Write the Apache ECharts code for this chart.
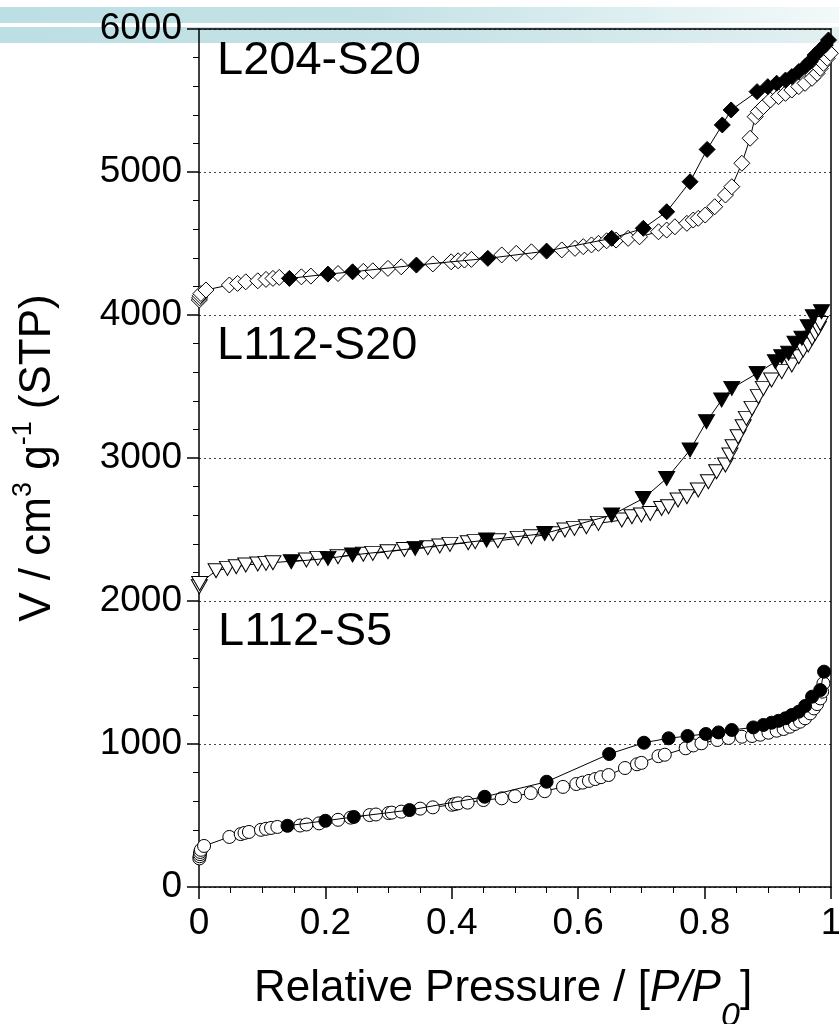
<!DOCTYPE html>
<html>
<head>
<meta charset="utf-8">
<script src="https://cdn.jsdelivr.net/npm/echarts@6/dist/echarts.min.js"></script>
<style>
html,body{margin:0;padding:0;background:#fff;}
#chart{width:839px;height:1024px;}
</style>
</head>
<body>
<div id="chart"></div>
<script>
// ---- data (plotted values, V in cm3/g STP vs P/P0) ----
const xTicks = [0, 0.2, 0.4, 0.6, 0.8, 1];
const yTicks = [0, 1000, 2000, 3000, 4000, 5000, 6000];
const sampleNames = ['L204-S20', 'L112-S20', 'L112-S5'];

// L112-S5 : open circles (adsorption), filled circles (desorption)
const s5Ads = [[0.0005,200],[0.001,215],[0.0015,230],[0.002,245],[0.003,260],[0.008,287],[0.048,350],[0.066,370],[0.072,378],[0.079,385],[0.098,400],[0.106,407],[0.114,413],[0.124,420],[0.16,430],[0.17,437],[0.19,445],[0.22,470],[0.24,485],[0.27,503],[0.28,507],[0.3,517],[0.305,520],[0.32,527],[0.35,548],[0.37,557],[0.40,575],[0.405,580],[0.41,585],[0.425,590],[0.45,608],[0.479,620],[0.5,635],[0.525,657],[0.547,670],[0.576,700],[0.597,720],[0.607,730],[0.617,742],[0.627,755],[0.636,768],[0.648,783],[0.674,832],[0.693,858],[0.70,868],[0.727,915],[0.737,925],[0.77,970],[0.782,990],[0.795,1005],[0.82,1028],[0.838,1042],[0.859,1051],[0.875,1056],[0.888,1065],[0.901,1079],[0.914,1093],[0.925,1105],[0.935,1121],[0.943,1140],[0.951,1156],[0.959,1180],[0.967,1214],[0.973,1249],[0.978,1279],[0.983,1319],[0.986,1366],[0.988,1424]];
const s5Des = [[0.989,1506],[0.983,1377],[0.97,1331],[0.959,1266],[0.949,1226],[0.938,1203],[0.928,1180],[0.917,1162],[0.906,1149],[0.893,1133],[0.877,1116],[0.843,1098],[0.822,1081],[0.802,1070],[0.773,1056],[0.743,1040],[0.704,1009],[0.649,930],[0.55,736],[0.452,631],[0.333,538],[0.245,490],[0.2,463],[0.14,428]];

// L112-S20 : open / filled down-triangles
const s20Ads = [[0.0005,2100],[0.001,2123],[0.027,2212],[0.045,2228],[0.059,2240],[0.074,2252],[0.093,2259],[0.106,2263],[0.117,2268],[0.17,2287],[0.188,2298],[0.22,2310],[0.26,2327],[0.275,2333],[0.299,2344],[0.325,2360],[0.362,2373],[0.381,2385],[0.397,2396],[0.426,2407],[0.437,2415],[0.473,2421],[0.505,2438],[0.526,2449],[0.56,2470],[0.579,2497],[0.594,2508],[0.613,2519],[0.632,2543],[0.669,2566],[0.685,2589],[0.7,2601],[0.714,2612],[0.732,2647],[0.743,2659],[0.758,2706],[0.772,2729],[0.79,2776],[0.806,2834],[0.819,2904],[0.833,2951],[0.84,3021],[0.845,3079],[0.853,3149],[0.861,3219],[0.866,3277],[0.875,3347],[0.885,3429],[0.893,3487],[0.906,3545],[0.922,3604],[0.938,3650],[0.949,3708],[0.956,3755],[0.964,3790],[0.97,3837],[0.975,3871],[0.98,3906],[0.983,3941]];
const s20Des = [[0.985,4023],[0.972,3988],[0.964,3918],[0.954,3837],[0.943,3802],[0.933,3732],[0.922,3708],[0.912,3673],[0.883,3592],[0.843,3487],[0.827,3406],[0.803,3254],[0.777,3056],[0.74,2857],[0.703,2717],[0.653,2601],[0.547,2472],[0.455,2426],[0.342,2368],[0.243,2322],[0.204,2298],[0.146,2275]];

// L204-S20 : open / filled diamonds
const l204Ads = [[0.0005,4105],[0.001,4120],[0.002,4135],[0.003,4150],[0.011,4175],[0.048,4210],[0.061,4221],[0.074,4232],[0.093,4239],[0.106,4249],[0.117,4256],[0.127,4263],[0.162,4267],[0.177,4272],[0.22,4290],[0.26,4305],[0.275,4309],[0.299,4326],[0.32,4337],[0.37,4357],[0.399,4372],[0.41,4379],[0.42,4384],[0.431,4389],[0.479,4420],[0.502,4431],[0.526,4442],[0.574,4455],[0.595,4466],[0.608,4478],[0.621,4490],[0.632,4501],[0.645,4519],[0.66,4524],[0.679,4536],[0.697,4547],[0.727,4582],[0.74,4594],[0.753,4617],[0.772,4641],[0.782,4664],[0.79,4676],[0.801,4699],[0.816,4757],[0.833,4839],[0.843,4897],[0.859,5061],[0.872,5236],[0.88,5387],[0.885,5422],[0.893,5457],[0.904,5503],[0.917,5527],[0.928,5550],[0.938,5573],[0.949,5597],[0.959,5620],[0.97,5655],[0.978,5690],[0.983,5725],[0.988,5760],[0.994,5795],[0.999,5830]];
const l204Des = [[0.996,5923],[0.991,5888],[0.983,5853],[0.975,5818],[0.967,5772],[0.959,5737],[0.949,5702],[0.938,5667],[0.928,5643],[0.914,5621],[0.9,5597],[0.883,5562],[0.842,5434],[0.828,5329],[0.804,5158],[0.777,4932],[0.74,4722],[0.703,4606],[0.653,4536],[0.55,4447],[0.457,4396],[0.344,4349],[0.243,4302],[0.204,4286],[0.143,4256]];

const FONT = "'Liberation Sans', Arial, Helvetica, sans-serif";

function mk(name, data, symbol, size, filled, rot) {
  return {
    name: name, type: 'line', data: data, symbol: symbol, symbolSize: size,
    symbolRotate: rot || 0, showAllSymbol: true, animation: false,
    lineStyle: {color: '#000', width: 1},
    itemStyle: {color: filled ? '#000' : '#fff', borderColor: '#000', borderWidth: 1},
    emphasis: {disabled: true}, z: filled ? 201 : 200
  };
}

function band(y, stops) {
  return {
    type: 'rect', z: 100, silent: true,
    shape: {x: 0, y: y, width: 839, height: 16},
    style: {fill: new echarts.graphic.LinearGradient(0, 0, 839, 0, stops, true)}
  };
}

const chart = echarts.init(document.getElementById('chart'), null, {renderer: 'canvas'});
const option = {
  backgroundColor: '#fff',
  animation: false,
  grid: {left: 199, right: 8, top: 29, bottom: 137, containLabel: false, outerBoundsMode: 'none'},
  graphic: {
    elements: [
      band(7, [{offset: 0, color: '#BCDFE3'}, {offset: 0.45, color: '#C4E2E6'}, {offset: 1, color: '#F3F9F9'}]),
      band(27, [{offset: 0, color: '#BCDFE3'}, {offset: 0.5, color: '#C5E2E6'}, {offset: 1, color: '#E3F0F2'}]),
      {type: 'text', z: 300, left: 217, top: 62.5 - 24.5,
       style: {text: sampleNames[0], font: '47px ' + FONT, fill: '#000'}},
      {type: 'text', z: 300, left: 217, top: 347.5 - 24.5,
       style: {text: sampleNames[1], font: '47px ' + FONT, fill: '#000'}},
      {type: 'text', z: 300, left: 218, top: 633.5 - 24.5,
       style: {text: sampleNames[2], font: '47px ' + FONT, fill: '#000'}}
    ]
  },
  xAxis: [{
    type: 'value', min: xTicks[0], max: xTicks[xTicks.length - 1], interval: 0.2, z: 150,
    axisLine: {show: true, onZero: false, lineStyle: {color: '#000', width: 1.5}},
    axisTick: {show: true, length: 12, lineStyle: {color: '#000', width: 1.5}},
    minorTick: {show: true, splitNumber: 4, length: 6, lineStyle: {color: '#000', width: 1}},
    splitLine: {show: false},
    axisLabel: {show: true, margin: 18, color: '#000', fontSize: 37, fontFamily: FONT,
      formatter: function (v) { return String(+v.toFixed(1)); }},
    name: '{n|Relative Pressure / [}{i|P/P}{s|0}{n|]}',
    nameLocation: 'middle', nameGap: 80,
    nameTextStyle: {
      padding: [0, 24, 0, 0],
      rich: {
        n: {fontSize: 44, fontFamily: FONT, color: '#000', lineHeight: 44, verticalAlign: 'top'},
        i: {fontSize: 44, fontFamily: FONT, fontStyle: 'italic', color: '#000', lineHeight: 44, verticalAlign: 'top'},
        s: {fontSize: 34, fontFamily: FONT, fontStyle: 'italic', color: '#000', lineHeight: 44, verticalAlign: 'top', padding: [33, 0, 0, 0]}
      }
    }
  }, {
    type: 'value', position: 'top', min: 0, max: 1, z: 150,
    axisLine: {show: true, onZero: false, lineStyle: {color: '#000', width: 1.5}},
    axisTick: {show: false}, axisLabel: {show: false}, splitLine: {show: false}
  }],
  yAxis: [{
    type: 'value', min: yTicks[0], max: yTicks[yTicks.length - 1], interval: 1000, z: 150,
    axisLine: {show: true, onZero: false, lineStyle: {color: '#000', width: 1.5}},
    axisTick: {show: true, length: 12, lineStyle: {color: '#000', width: 1.5}},
    minorTick: {show: true, splitNumber: 5, length: 6, lineStyle: {color: '#000', width: 1}},
    splitLine: {show: true, lineStyle: {color: '#444', width: 1, type: [2, 3]}},
    axisLabel: {show: true, margin: 17, color: '#000', fontSize: 37, fontFamily: FONT,
      formatter: function (v) { return String(v); }},
    name: '{n|V / cm}{p|3}{n| g}{p|-1}{n| (STP)}',
    nameLocation: 'middle', nameGap: 139, nameRotate: 90,
    nameTextStyle: {
      rich: {
        n: {fontSize: 44, fontFamily: FONT, color: '#000', lineHeight: 44, verticalAlign: 'bottom'},
        p: {fontSize: 27, fontFamily: FONT, color: '#000', lineHeight: 50, verticalAlign: 'top'}
      }
    }
  }, {
    type: 'value', position: 'right', min: 0, max: 6000, z: 150,
    axisLine: {show: true, onZero: false, lineStyle: {color: '#000', width: 1.5}},
    axisTick: {show: false}, axisLabel: {show: false}, splitLine: {show: false}
  }],
  series: [
    mk('L112-S5 ads', s5Ads, 'circle', 13, false),
    mk('L112-S20 ads', s20Ads, 'triangle', [16, 14], false, 180),
    mk('L204-S20 ads', l204Ads, 'diamond', 16, false),
    mk('L112-S5 des', s5Des, 'circle', 13, true),
    mk('L112-S20 des', s20Des, 'triangle', [16, 14], true, 180),
    mk('L204-S20 des', l204Des, 'diamond', 16, true)
  ]
};
chart.setOption(option);
</script>
</body>
</html>
